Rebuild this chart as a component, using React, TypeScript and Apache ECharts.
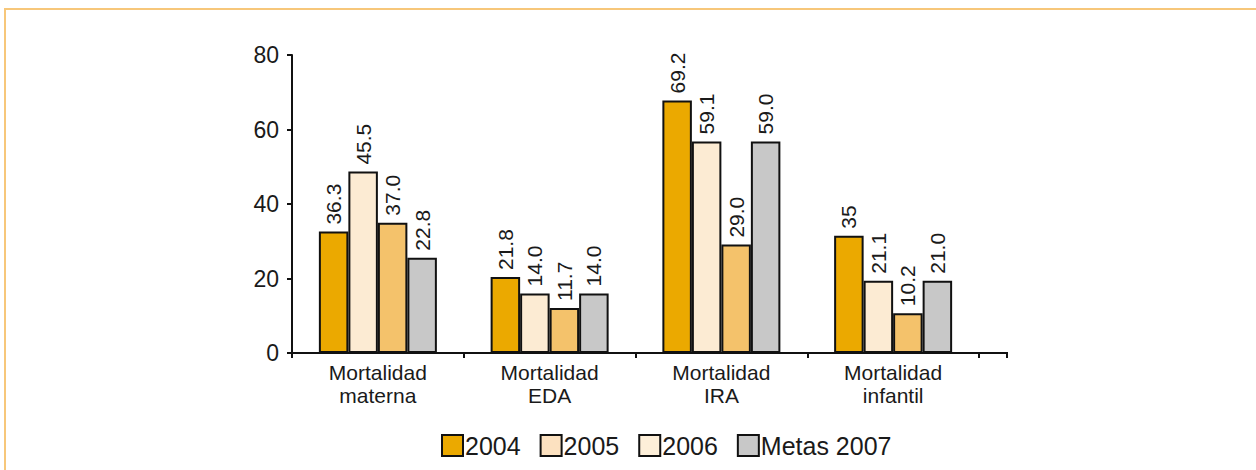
import React, { useEffect, useRef } from "react";
import * as echarts from "echarts";

const categories = ["Mortalidad\nmaterna", "Mortalidad\nEDA", "Mortalidad\nIRA", "Mortalidad\ninfantil"];
const seriesNames = ["2004", "2005", "2006", "Metas 2007"];
// bar heights as drawn
const values2004 = [32.6, 20.4, 67.8, 31.5];
const values2005 = [48.7, 16.0, 56.8, 19.4];
const values2006 = [35.0, 12.1, 29.1, 10.7];
const valuesMetas = [25.6, 16.0, 56.8, 19.4];
// printed labels
const labels2004 = ["36.3", "21.8", "69.2", "35"];
const labels2005 = ["45.5", "14.0", "59.1", "21.1"];
const labels2006 = ["37.0", "11.7", "29.0", "10.2"];
const labelsMetas = ["22.8", "14.0", "59.0", "21.0"];
const barColors = ["#EBA900", "#FCEBD3", "#F4C26B", "#C8C8C8"];
const legendColors = ["#EBA900", "#FCE1C0", "#FDEFD9", "#C8C8C8"];
const yTicks = [0, 20, 40, 60, 80];

const FONT = "'Liberation Sans', Arial, sans-serif";

export default function App() {
  const ref = useRef<HTMLDivElement>(null);
  useEffect(() => {
    document.body.style.margin = "0";
    const chart = echarts.init(ref.current!, null, { renderer: "svg" });
    const allValues = [values2004, values2005, values2006, valuesMetas];
    const allLabels = [labels2004, labels2005, labels2006, labelsMetas];
    const series = seriesNames.map((name, si) => ({
      name,
      type: "bar",
      data: allValues[si],
      barWidth: 29.5,
      barGap: "0%",
      itemStyle: { color: barColors[si], borderColor: "#111", borderWidth: 2 },
      label: {
        show: true,
        position: "top",
        rotate: 90,
        align: "left",
        verticalAlign: "middle",
        distance: 7,
        fontFamily: FONT,
        fontSize: 21,
        color: "#1a1a1a",
        formatter: (p: any) => allLabels[si][p.dataIndex],
      },
    }));
    chart.setOption({
      animation: false,
      backgroundColor: "#ffffff",
      grid: { left: 292, top: 55, width: 687, height: 298 },
      legend: {
        left: 436,
        top: 428,
        itemWidth: 21,
        itemHeight: 21,
        itemGap: 19,
        icon: "rect",
        textStyle: { fontFamily: FONT, fontSize: 25, color: "#1a1a1a", padding: [0, 0, 0, -3] },
        data: seriesNames.map((n, i) => ({
          name: n,
          itemStyle: { color: legendColors[i], borderColor: "#111", borderWidth: 2 },
        })),
      },
      xAxis: {
        type: "category",
        data: categories,
        axisLine: { lineStyle: { color: "#111", width: 2 } },
        axisTick: { show: true, length: 5, lineStyle: { color: "#111", width: 2 } },
        axisLabel: { fontFamily: FONT, fontSize: 21, lineHeight: 23, color: "#1a1a1a", margin: 8 },
      },
      yAxis: {
        type: "value",
        min: yTicks[0],
        max: yTicks[yTicks.length - 1],
        interval: 20,
        splitLine: { show: false },
        axisLine: { show: true, lineStyle: { color: "#111", width: 2 } },
        axisTick: { show: true, length: 5, lineStyle: { color: "#111", width: 2 } },
        axisLabel: { fontFamily: FONT, fontSize: 23, color: "#1a1a1a", margin: 13 },
      },
      graphic: [
        {
          type: "rect",
          shape: { x: 5, y: 9, width: 1300, height: 520 },
          style: { fill: "none", stroke: "#F7C77A", lineWidth: 2 },
          silent: true,
        },
        {
          type: "line",
          shape: { x1: 978, y1: 353, x2: 1008, y2: 353 },
          style: { stroke: "#111", lineWidth: 2 },
        },
        {
          type: "line",
          shape: { x1: 1007, y1: 353, x2: 1007, y2: 358 },
          style: { stroke: "#111", lineWidth: 2 },
        },
      ],
      series,
    });
    return () => chart.dispose();
  }, []);
  return <div ref={ref} style={{ position: "fixed", left: 0, top: 0, width: 1256, height: 470 }} />;
}
